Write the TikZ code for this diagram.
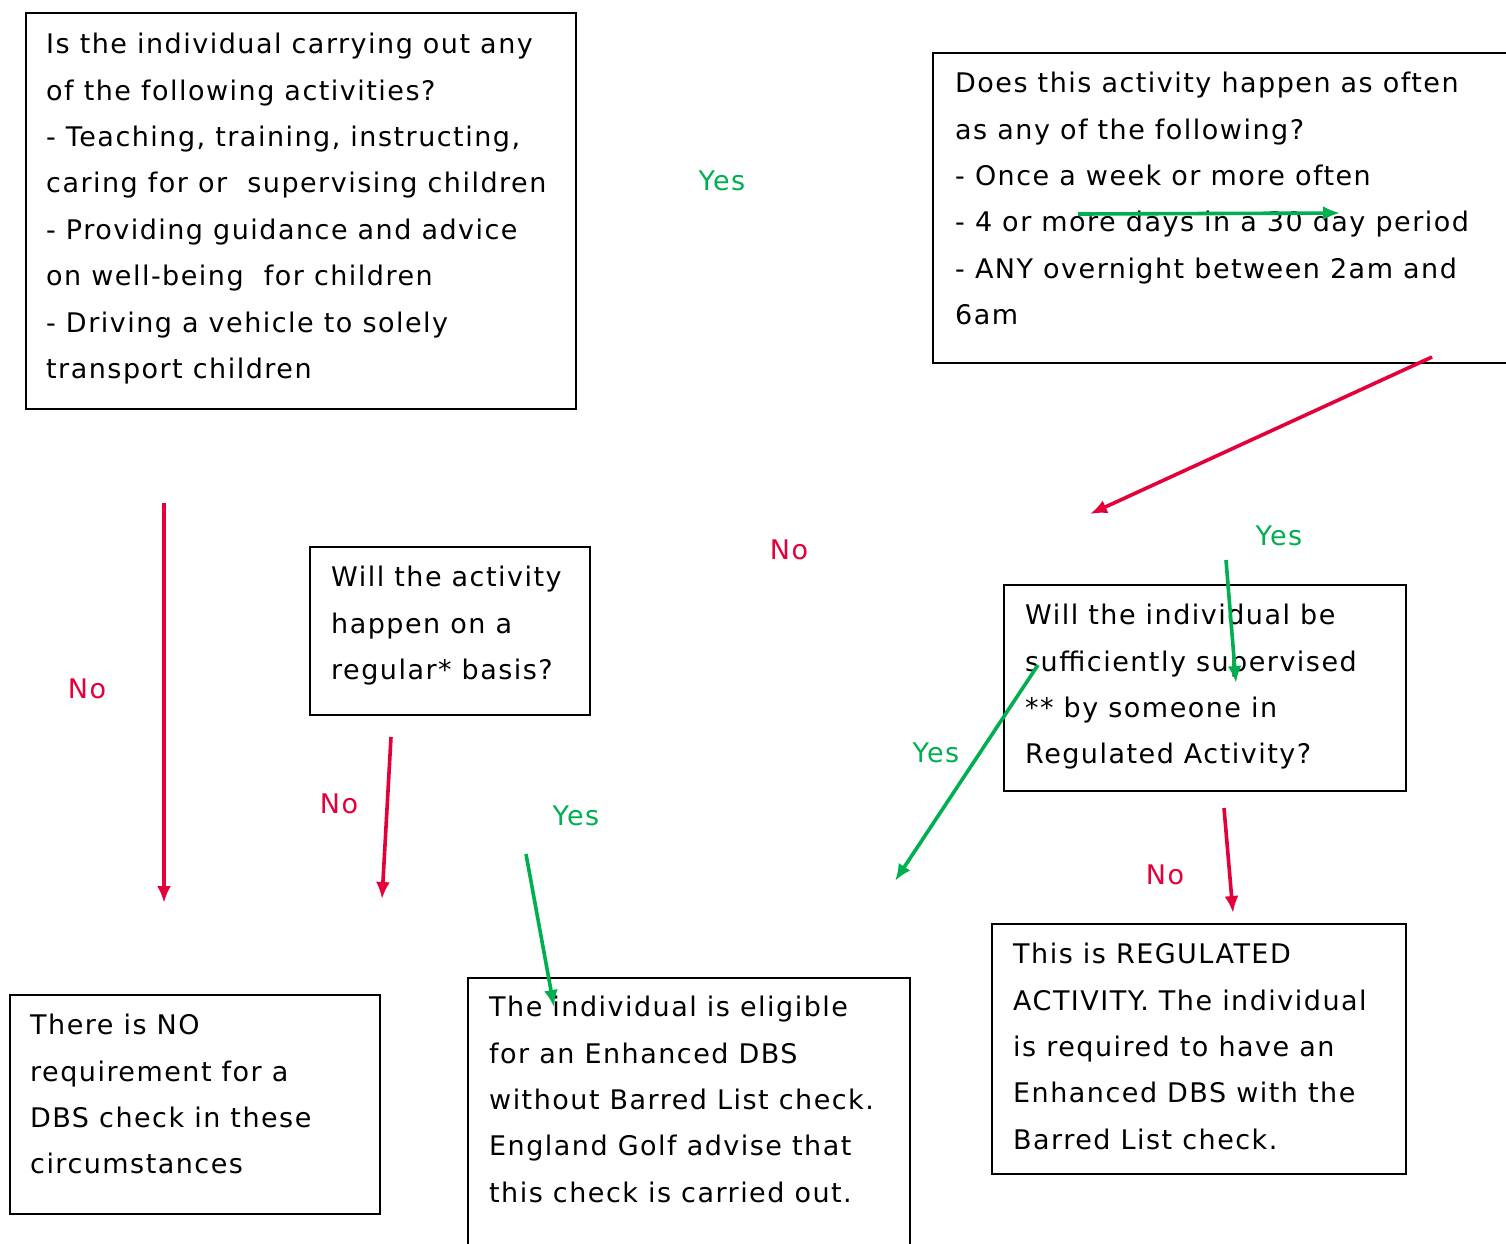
\documentclass[tikz,border=0pt]{standalone}
\usepackage{fontspec}
\setmainfont[LetterSpace=5.5]{DejaVu Sans}
\usetikzlibrary{arrows.meta}
\definecolor{yesgreen}{RGB}{0,176,80}
\definecolor{nored}{RGB}{228,0,58}
\tikzset{
  box/.style={line width=2pt, draw=black},
  txt/.style={anchor=north west, inner sep=0pt, align=left, font=\fontsize{27}{46.4}\selectfont},
  lbl/.style={inner sep=0pt, font=\fontsize{27}{32}\selectfont},
  yesarrow/.style={line width=3.6pt, color=yesgreen, -{Latex[length=17pt,width=14pt]}},
  noarrow/.style={line width=3.6pt, color=nored, -{Latex[length=17pt,width=14pt]}}
}

\begin{document}
\begin{tikzpicture}[x=1pt, y=-1pt]
  \clip (0,0) rectangle (1506,1243);
  \fill[white] (0,0) rectangle (1506,1243);

  % boxes
  \draw[box] (26,13) rectangle (576,409); % activities
  \draw[box] (933,53) rectangle (1520,363); % how often
  \draw[box] (310,547) rectangle (590,715); % regular
  \draw[box] (1004,585) rectangle (1406,791); % supervised
  \draw[box] (10,995) rectangle (380,1214); % no requirement
  \draw[box] (468,978) rectangle (910,1260); % enhanced without list
  \draw[box] (992,924) rectangle (1406,1174); % regulated activity

  \node[txt] (activities) at (46,33) {Is the individual carrying out any\\
    of the following activities?\\
    - Teaching, training, instructing,\\
    caring for or\ \ supervising children\\
    - Providing guidance and advice\\
    on well-being\ \ for children\\
    - Driving a vehicle to solely\\
    transport children};
  \node[txt] (often) at (955,72) {Does this activity happen as often\\
    as any of the following?\\
    - Once a week or more often\\
    - 4 or more days in a 30 day period\\
    - ANY overnight between 2am and\\
    6am};
  \node[txt] (regular) at (331,566) {Will the activity\\
    happen on a\\
    regular* basis?};
  \node[txt] (supervised) at (1025,604) {Will the individual be\\
    sufficiently supervised\\
    ** by someone in\\
    Regulated Activity?};
  \node[txt] (nocheck) at (30,1014) {There is NO\\
    requirement for a\\
    DBS check in these\\
    circumstances};
  \node[txt] (enhanced) at (489,996) {The individual is eligible\\
    for an Enhanced DBS\\
    without Barred List check.\\
    England Golf advise that\\
    this check is carried out.};
  \node[txt] (regulated) at (1013,943) {This is REGULATED\\
    ACTIVITY. The individual\\
    is required to have an\\
    Enhanced DBS with the\\
    Barred List check.};

  % arrow ends
  \coordinate (y1s) at (1078,214); \coordinate (y1e) at (1340,213);
  \coordinate (n1s) at (1432,357); \coordinate (n1e) at (1090,514);
  \coordinate (y2s) at (1226,560); \coordinate (y2e) at (1236,683);
  \coordinate (y3s) at (1038,665); \coordinate (y3e) at (895,881);
  \coordinate (n2s) at (1224,808); \coordinate (n2e) at (1233,913);
  \coordinate (n3s) at (164,503);  \coordinate (n3e) at (164,903);
  \coordinate (n4s) at (391,737);  \coordinate (n4e) at (382,899);
  \coordinate (y4s) at (526,854);  \coordinate (y4e) at (554,1007);

  \draw[yesarrow] (y1s) -- (y1e);
  \draw[noarrow] (n1s) -- (n1e);
  \draw[yesarrow] (y2s) -- (y2e);
  \draw[yesarrow] (y3s) -- (y3e);
  \draw[noarrow] (n2s) -- (n2e);
  \draw[noarrow] (n3s) -- (n3e);
  \draw[noarrow] (n4s) -- (n4e);
  \draw[yesarrow] (y4s) -- (y4e);

  % labels
  \node[lbl, color=yesgreen] (yes1) at (722,181) {Yes};
  \node[lbl, color=nored] (no1) at (789,550) {No};
  \node[lbl, color=yesgreen] (yes2) at (1279,536) {Yes};
  \node[lbl, color=yesgreen] (yes3) at (936,753) {Yes};
  \node[lbl, color=nored] (no2) at (1165,875) {No};
  \node[lbl, color=nored] (no3) at (87,689) {No};
  \node[lbl, color=nored] (no4) at (339,804) {No};
  \node[lbl, color=yesgreen] (yes4) at (576,816) {Yes};
\end{tikzpicture}
\end{document}
